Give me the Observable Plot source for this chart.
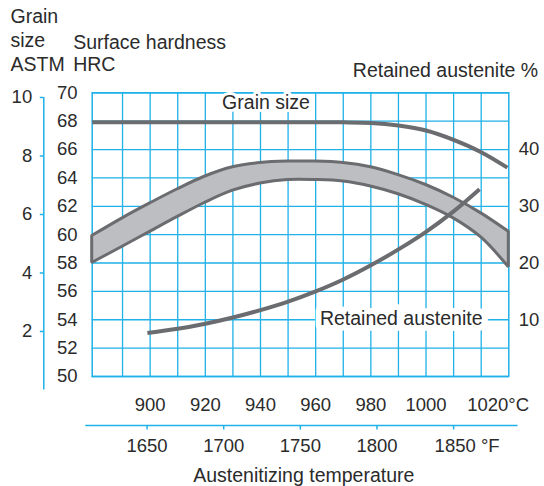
<!DOCTYPE html>
<html><head><meta charset="utf-8">
<script src="https://cdn.jsdelivr.net/npm/d3@7"></script>
<script src="https://cdn.jsdelivr.net/npm/@observablehq/plot@0.6"></script>
<style>
html,body{margin:0;padding:0;background:#fff;}
#chart svg{display:block;}
</style></head><body><div id="chart"></div>
<script>
// ---- tick values / labels ----
const celsiusTicks = [900, 920, 940, 960, 980, 1000];
const celsiusLast = [1020];
const gridCelsius = [890, 900, 910, 920, 930, 940, 950, 960, 970, 980, 990, 1000, 1010, 1020];
const fahrenheitTicks = [1650, 1700, 1750, 1800];
const fahrenheitLast = [1850];
const fahrenheitRange = [1610, 1892];
const hrcTicks = [50, 52, 54, 56, 58, 60, 62, 64, 66, 68, 70];
const grainTicks = [2, 4, 6, 8, 10];
const grainRange = [0, 10];
const austeniteTicks = [10, 20, 30, 40];
const xDomain = [879, 1030];
const yDomain = [50, 70];

// ---- series ----
const bandTemp = [879, 890, 900, 910, 920, 930, 940, 950, 960, 970, 980, 990, 1000, 1010, 1020, 1030];
const hardHigh = [59.9, 61.15, 62.2, 63.2, 64.1, 64.75, 65.05, 65.15, 65.15, 65.05, 64.75, 64.2, 63.5, 62.6, 61.5, 60.2];
const hardLow  = [58.0, 59.15, 60.2, 61.25, 62.25, 63.1, 63.6, 63.85, 63.85, 63.75, 63.4, 62.85, 62.1, 61.15, 59.8, 57.7];

const grainTemp = [879, 920, 960, 970, 980, 990, 1000, 1010, 1020, 1029.5];
const grainSize = [9.15, 9.15, 9.15, 9.15, 9.13, 9.04, 8.87, 8.55, 8.13, 7.6];

const austTemp = [899, 910, 920, 930, 940, 950, 960, 970, 980, 990, 1000, 1010, 1019.4];
const austPct  = [7.65, 8.4, 9.3, 10.4, 11.7, 13.2, 15.0, 17.1, 19.6, 22.4, 25.5, 29.1, 33.0];

// ---- annotation labels ----
const grainLabel = ["Grain size"];
const grainLabelTemp = [942];
const austLabel = ["Retained austenite"];
const austLabelTemp = [991];
const austLabelPct = [9];

// ---- secondary axes mapped onto the HRC scale ----
const grainToHRC = g => 49.05 + 2.062 * g;
const austToHRC = r => 50 + 0.4 * r;
const fToC = f => (f - 32) * 5 / 9;

const blue = "#1fb1e8";
const grey = "#6b6c6f";
const ink = "#2b2b2b";
const font = "'Liberation Sans', Arial, Helvetica, sans-serif";
const tickFs = 18.5;
const titleFs = 19.5;

const band = bandTemp.map((t, i) => ({t, hi: hardHigh[i], lo: hardLow[i]}));
const grain = grainTemp.map((t, i) => ({t, h: grainToHRC(grainSize[i])}));
const aust = austTemp.map((t, i) => ({t, h: austToHRC(austPct[i])}));

const chart = Plot.plot({
  width: 544,
  height: 486,
  marginLeft: 91.7,
  marginRight: 35.7,
  marginTop: 92.3,
  marginBottom: 110,
  x: {domain: xDomain},
  y: {domain: yDomain},
  style: {fontFamily: font, fontSize: tickFs + "px", color: ink, background: "white"},
  marks: [
    // grid
    Plot.ruleX(gridCelsius, {stroke: blue, strokeWidth: 1.3}),
    Plot.ruleY(hrcTicks, {stroke: blue, strokeWidth: 1.3}),
    Plot.frame({stroke: blue, strokeWidth: 1.5}),

    // hardness band
    Plot.areaY(band, {x: "t", y1: "lo", y2: "hi", fill: "#bdbec1", stroke: grey, strokeWidth: 3, strokeLinejoin: "miter", curve: "catmull-rom"}),
    // grain size line
    Plot.line(grain, {x: "t", y: "h", stroke: grey, strokeWidth: 4, strokeLinecap: "butt", curve: "catmull-rom"}),
    // retained austenite line
    Plot.line(aust, {x: "t", y: "h", stroke: grey, strokeWidth: 4, strokeLinecap: "butt", curve: "catmull-rom"}),

    // in-chart labels
    Plot.text(grainLabel, {x: (d, i) => grainLabelTemp[i], y: () => grainToHRC(grainSize[0]), text: d => d,
      dy: -13, lineAnchor: "bottom", fontSize: titleFs, fill: ink, stroke: "white", strokeWidth: 6}),
    Plot.text(austLabel, {x: (d, i) => austLabelTemp[i], y: (d, i) => austToHRC(austLabelPct[i]), text: d => d,
      lineAnchor: "bottom", fontSize: titleFs, fill: ink, stroke: "white", strokeWidth: 12, strokeLinejoin: "round"}),

    // HRC axis labels (left, inner)
    Plot.text(hrcTicks, {y: d => d, text: d => String(d), frameAnchor: "left", textAnchor: "end", dx: -14.7,
      lineAnchor: "middle", fontSize: tickFs, fill: ink}),

    // grain size axis (left, outer)
    Plot.ruleX(xDomain.slice(0, 1), {y1: grainToHRC(grainRange[0]), y2: grainToHRC(grainRange[1]), dx: -48.4, stroke: blue, strokeWidth: 1.5}),
    Plot.axisY({ticks: grainTicks.map(grainToHRC), anchor: "left", tickSize: 3.5, dx: -48.4, stroke: blue, strokeWidth: 1.5,
      tickFormat: () => "", label: null}),
    Plot.text(grainTicks, {y: grainToHRC, text: d => String(d), frameAnchor: "left", textAnchor: "end", dx: -60,
      lineAnchor: "middle", fontSize: tickFs, fill: ink}),

    // retained austenite axis (right)
    Plot.text(austeniteTicks, {y: austToHRC, text: d => String(d), frameAnchor: "right", textAnchor: "start", dx: 10,
      lineAnchor: "middle", fontSize: tickFs, fill: ink}),

    // °C labels
    Plot.text(celsiusTicks, {x: d => d, text: d => String(d), frameAnchor: "bottom", dy: 34.7, lineAnchor: "bottom",
      fontSize: tickFs, fill: ink}),
    Plot.text(celsiusLast, {x: d => d, text: d => d + "°C", frameAnchor: "bottom", dy: 34.7, lineAnchor: "bottom",
      textAnchor: "start", dx: -14, fontSize: tickFs, fill: ink}),

    // °F axis
    Plot.ruleY(yDomain.slice(0, 1), {x1: fToC(fahrenheitRange[0]), x2: fToC(fahrenheitRange[1]), dy: 49, stroke: blue, strokeWidth: 1.5}),
    Plot.axisX({ticks: fahrenheitTicks.concat(fahrenheitLast).map(fToC), anchor: "bottom", tickSize: 4.5, dy: 49,
      stroke: blue, strokeWidth: 1.5, tickFormat: () => "", label: null}),
    Plot.text(fahrenheitTicks, {x: fToC, text: d => String(d), frameAnchor: "bottom", dy: 75.7, lineAnchor: "bottom",
      fontSize: tickFs, fill: ink}),
    Plot.text(fahrenheitLast, {x: fToC, text: d => d + " °F", frameAnchor: "bottom", dy: 75.7, lineAnchor: "bottom",
      textAnchor: "start", dx: -19, fontSize: tickFs, fill: ink}),

    // titles
    Plot.text(["Grain\nsize\nASTM"], {frameAnchor: "top-left", textAnchor: "start", lineAnchor: "bottom", lineHeight: 1.23,
      dx: -81.7, dy: -21.6, fontSize: titleFs, fill: ink}),
    Plot.text(["Surface hardness\nHRC"], {frameAnchor: "top-left", textAnchor: "start", lineAnchor: "bottom", lineHeight: 1.16,
      dx: -19, dy: -21.6, fontSize: titleFs, fill: ink}),
    Plot.text(["Retained austenite %"], {frameAnchor: "top-right", textAnchor: "end", lineAnchor: "bottom",
      dx: 29.4, dy: -16.3, fontSize: titleFs, fill: ink}),
    Plot.text(["Austenitizing temperature"], {frameAnchor: "bottom", lineAnchor: "bottom",
      dx: 3.3, dy: 105.7, fontSize: titleFs, fill: ink})
  ]
});
document.getElementById("chart").appendChild(chart);
</script>
</body></html>
